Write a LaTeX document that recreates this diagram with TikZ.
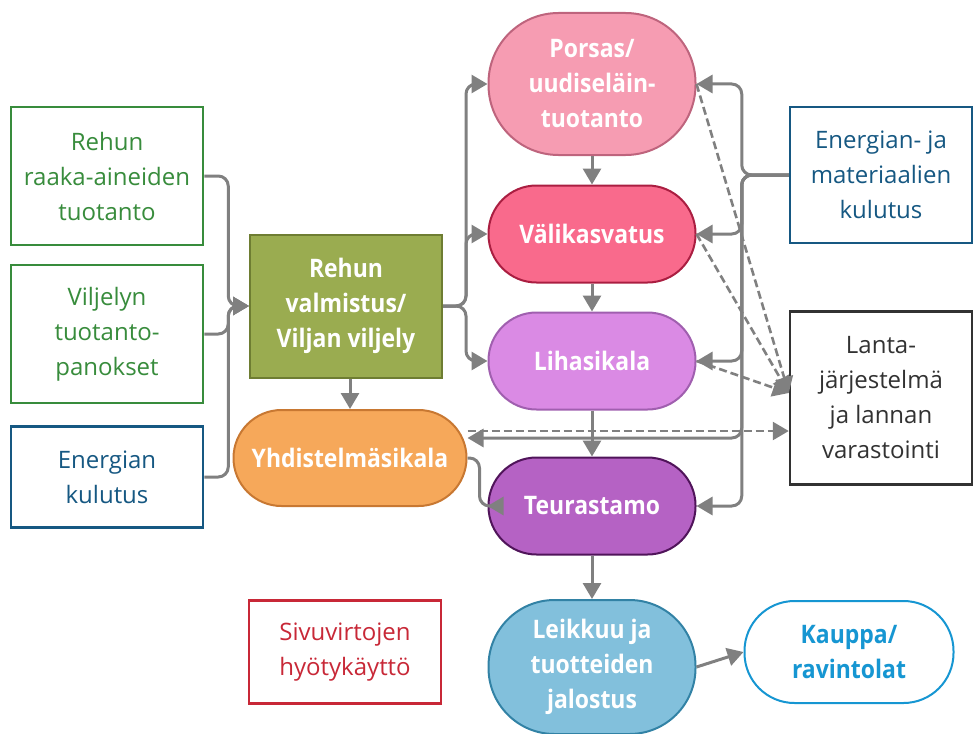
\documentclass[tikz,border=0pt]{standalone}
\usepackage{fontspec}
\setmainfont{Open Sans}
\newfontfamily\condfont[FakeStretch=0.9]{Open Sans}
\usetikzlibrary{positioning, arrows.meta, calc}

\definecolor{grn}{RGB}{56,140,60}
\definecolor{blu}{RGB}{22,88,130}
\definecolor{rd}{RGB}{200,40,55}
\definecolor{dgray}{RGB}{50,50,50}
\definecolor{linegray}{RGB}{128,128,128}
\definecolor{kblue}{RGB}{22,150,210}

\begin{document}
\begin{tikzpicture}[
    x=1pt, y=-1pt,
    box/.style={rectangle, draw, line width=2.5pt, fill=white, minimum width=192pt, inner sep=0pt, align=center, font=\fontsize{24}{35}\selectfont},
    pill/.style={rectangle, draw, line width=2pt, minimum width=207pt, minimum height=97pt, rounded corners=48pt, inner sep=0pt, align=center, text=white, font=\condfont\bfseries\fontsize{25.5}{35}\selectfont},
    arr/.style={-{Triangle[length=16pt, width=18pt]}, line width=3pt, draw=linegray, rounded corners=10pt},
    darr/.style={arr, line width=2.6pt, dash pattern=on 8pt off 4pt, rounded corners=0pt}
]
    \useasboundingbox (0,0) rectangle (973,733);

    \node[box, draw=grn, text=grn, minimum height=138pt] (raaka) at (107,176) {Rehun\\raaka-aineiden\\tuotanto};
    \node[box, draw=grn, text=grn, minimum height=138pt] (panos) at (107,334) {Viljelyn\\tuotanto-\\panokset};
    \node[box, draw=blu, text=blu, minimum height=101pt] (energia) at (107,477) {Energian\\kulutus};

    \node[pill, rounded corners=0pt, draw={rgb,255:red,110;green,125;blue,50}, fill={rgb,255:red,154;green,172;blue,80}, minimum width=192pt, minimum height=143pt] (valmistus) at (346,306) {Rehun\\valmistus/\\Viljan viljely};
    \node[pill, draw={rgb,255:red,200;green,120;blue,50}, fill={rgb,255:red,246;green,168;blue,90}, minimum width=233pt, minimum height=96pt] (yhdistelma) at (350,458) {Yhdistelmäsikala};

    \node[pill, draw={rgb,255:red,190;green,100;blue,125}, fill={rgb,255:red,246;green,156;blue,178}, minimum height=142pt, rounded corners=70pt] (porsas) at (592,84) {Porsas/\\uudiseläin-\\tuotanto};
    \node[pill, draw={rgb,255:red,170;green,30;blue,65}, fill={rgb,255:red,249;green,106;blue,140}] (vali) at (592,234) {Välikasvatus};
    \node[pill, draw={rgb,255:red,160;green,95;blue,175}, fill={rgb,255:red,218;green,138;blue,228}] (liha) at (592,361) {Lihasikala};
    \node[pill, draw={rgb,255:red,80;green,20;blue,90}, fill={rgb,255:red,181;green,98;blue,196}] (teuras) at (592,506) {Teurastamo};
    \node[pill, draw={rgb,255:red,50;green,130;blue,165}, fill={rgb,255:red,130;green,192;blue,220}, minimum height=134pt, rounded corners=66pt] (leikkuu) at (592,667) {Leikkuu ja\\tuotteiden\\jalostus};
    \node[pill, draw=kblue, fill=white, text=kblue, minimum width=209pt, minimum height=102pt, rounded corners=50pt] (kauppa) at (849,652) {Kauppa/\\ravintolat};

    \node[box, draw=rd, text=rd, minimum height=103pt] (sivu) at (345,652) {Sivuvirtojen\\hyötykäyttö};
    \node[box, draw=blu, text=blu, minimum width=182pt, minimum height=136pt] (materiaali) at (881,175) {Energian- ja\\materiaalien\\kulutus};
    \node[box, draw=dgray, text=dgray, minimum width=182pt, minimum height=173pt] (lanta) at (881,398) {Lanta-\\järjestelmä\\ja lannan\\varastointi};

    \draw[arr] (raaka.east) -- ++(24,0) |- (valmistus.west);
    \draw[arr] (panos.east) -- ++(24,0) |- (valmistus.west);
    \draw[arr] (energia.east) -- ++(24,0) |- (valmistus.west);

    \draw[arr] (valmistus.east) -- ++(23,0) |- (porsas.west);
    \draw[arr] (valmistus.east) -- ++(23,0) |- (vali.west);
    \draw[arr] (valmistus.east) -- ++(23,0) |- (liha.west);
    \draw[arr] (yhdistelma.north |- valmistus.south) -- (yhdistelma.north);
    \draw[arr] (yhdistelma.east) -- ++(12,0) |- (teuras.west);

    \draw[arr] (porsas.south) -- (vali.north);
    \draw[arr] (vali.south) -- (liha.north);
    \draw[arr] (liha.south) -- (teuras.north);
    \draw[arr] (teuras.south) -- (leikkuu.north);
    \draw[arr] (leikkuu.east) -- (kauppa.west);

    \draw[arr] (materiaali.west) -- ++(-47,0) |- (porsas.east);
    \draw[arr] (materiaali.west) -- ++(-47,0) |- (vali.east);
    \draw[arr] (materiaali.west) -- ++(-47,0) |- (liha.east);
    \draw[arr] (materiaali.west) -- ++(-47,0) |- ([yshift=20pt]yhdistelma.east);
    \draw[arr] (materiaali.west) -- ++(-47,0) |- (teuras.east);

    \draw[darr] (porsas.east) -- ([yshift=5pt]lanta.west);
    \draw[darr] (vali.east) -- ([yshift=5pt]lanta.west);
    \draw[darr] (liha.east) -- ([yshift=5pt]lanta.west);
    \draw[darr] ([yshift=27pt]yhdistelma.east) -- ([yshift=27pt]yhdistelma.east -| lanta.west);
\end{tikzpicture}
\end{document}
